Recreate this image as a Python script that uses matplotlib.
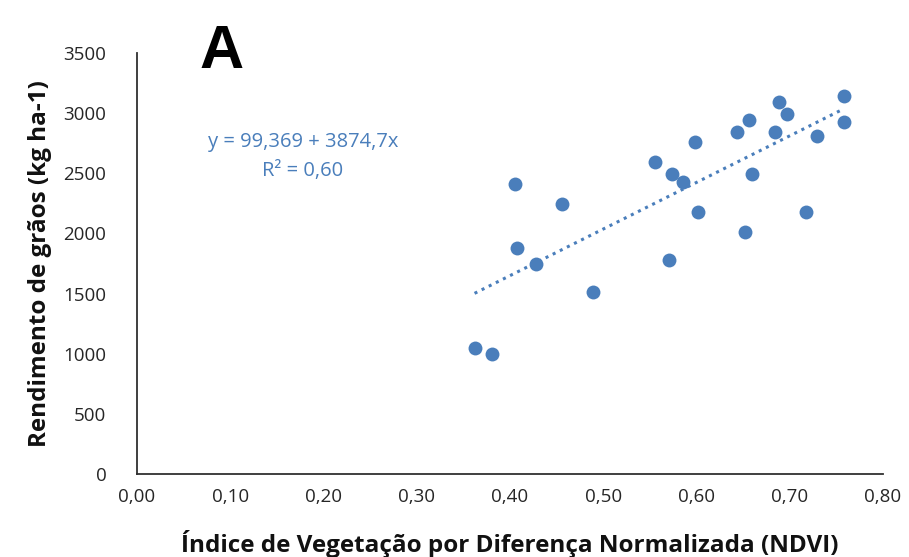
import matplotlib
matplotlib.use("Agg")
import matplotlib.pyplot as plt
import numpy as np

# NDVI vs grain yield
ndvi = [0.405, 0.456, 0.407, 0.428, 0.489, 0.362, 0.381, 0.555, 0.574, 0.586,
        0.598, 0.602, 0.570, 0.643, 0.656, 0.660, 0.652, 0.688, 0.697, 0.684,
        0.717, 0.729, 0.758, 0.758]
rendimento = [2410, 2244, 1878, 1745, 1512, 1046, 996, 2593, 2493, 2429,
              2762, 2177, 1778, 2843, 2945, 2493, 2011, 3093, 2995, 2843,
              2177, 2810, 3145, 2926]

# trendline from the equation shown on the chart
intercept = 99.369
slope = 3874.7

x_ticks = [0.0, 0.1, 0.2, 0.3, 0.4, 0.5, 0.6, 0.7, 0.8]
y_ticks = [0, 500, 1000, 1500, 2000, 2500, 3000, 3500]

blue = "#4A7EBB"
plt.rcParams['font.family'] = ['Open Sans', 'DejaVu Sans']

fig = plt.figure(figsize=(9.09, 5.57), dpi=100)
ax = fig.add_axes([0.1507, 0.149, 0.8207, 0.7558])

ax.scatter(ndvi, rendimento, s=100, color=blue, zorder=3, linewidths=0)

xl = np.array([min(ndvi), max(ndvi)])
ax.plot(xl, intercept + slope * xl, linestyle=(0, (1, 1.6)), color=blue,
        linewidth=2.2, zorder=2)

ax.set_xlim(0, 0.8)
ax.set_ylim(0, 3500)
ax.set_xticks(x_ticks)
ax.set_xticklabels([f"{t:.2f}".replace(".", ",") for t in x_ticks])
ax.set_yticks(y_ticks)
ax.set_yticklabels([str(t) for t in y_ticks])
ax.tick_params(length=0, labelsize=13.5, colors="#262626", pad=10)
ax.tick_params(axis='y', pad=22)

for side in ['top', 'right']:
    ax.spines[side].set_visible(False)
for side in ['left', 'bottom']:
    ax.spines[side].set_color("#303030")
    ax.spines[side].set_linewidth(1.3)

ax.set_xlabel("Índice de Vegetação por Diferença Normalizada (NDVI)",
              fontsize=17.5, fontweight='bold', labelpad=17, color="#111111")
ax.set_ylabel("Rendimento de grãos (kg ha-1)",
              fontsize=17.5, fontweight='bold', labelpad=8, color="#111111")

fig.text(222 / 909, 1 - 52 / 557, "A", fontsize=44, fontweight='bold',
         ha='center', va='center', family='Liberation Sans')
fig.text(303 / 909, 1 - 142 / 557, "y = 99,369 + 3874,7x", fontsize=14.5,
         color=blue, ha='center', va='center')
fig.text(303 / 909, 1 - 171 / 557, "R² = 0,60", fontsize=14.5,
         color=blue, ha='center', va='center')

fig.savefig("out.png", dpi=100)
